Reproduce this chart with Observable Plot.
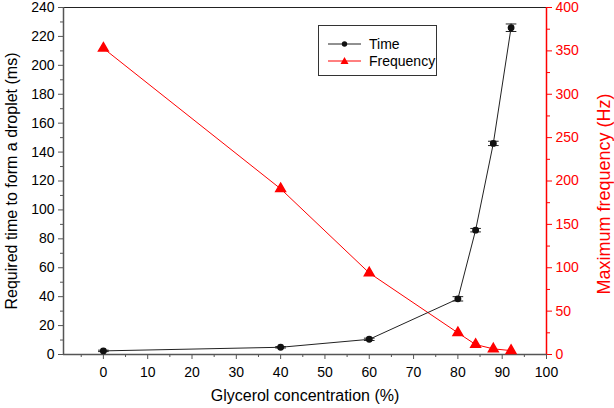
<!DOCTYPE html>
<html><head><meta charset="utf-8">
<script src="https://cdn.jsdelivr.net/npm/d3@7"></script>
<script src="https://cdn.jsdelivr.net/npm/@observablehq/plot@0.6"></script>
<style>
body{margin:0;background:#fff;font-family:"Liberation Sans",Arial,sans-serif;}
#wrap{position:relative;width:614px;height:408px;}
.t{position:absolute;white-space:nowrap;font-size:16px;}
#legend{position:absolute;left:318px;top:25px;width:119px;height:51px;border:1px solid #333;background:#fff;box-sizing:border-box;font-size:14px;}
</style></head>
<body><div id="wrap"></div>
<script>
const glycerol = [0, 40, 60, 80, 84, 88, 92];
const timeMs = [2.5, 5, 10.5, 38.5, 86, 146, 226];
const timeErr = [0.5, 0.5, 0.8, 1.5, 1.2, 1.5, 2.6];
const freqHz = [353, 191, 94, 25, 11.5, 6.5, 4.5];
const xMajor = [0,10,20,30,40,50,60,70,80,90,100];
const xMinor = [-5,5,15,25,35,45,55,65,75,85,95];
const yMajor = [0,20,40,60,80,100,120,140,160,180,200,220,240];
const yMinor = [10,30,50,70,90,110,130,150,170,190,210,230];
const fMajor = [0,50,100,150,200,250,300,350,400];
const fMinor = [25,75,125,175,225,275,325,375];

const k = 240/400;
const timeData = glycerol.map((g,i)=>({x:g, y:timeMs[i], e:timeErr[i]}));
const freqData = glycerol.map((g,i)=>({x:g, y:freqHz[i]*k}));

const chart = Plot.plot({
  width: 614, height: 408,
  marginLeft: 63, marginRight: 68, marginTop: 7, marginBottom: 54,
  style: {fontFamily: '"Liberation Sans", Arial, sans-serif', fontSize: "14px", background: "white", color: "black"},
  x: {domain: [-9, 100]},
  y: {domain: [0, 240]},
  marks: [
    Plot.axisX({ticks: xMajor, tickSize: 5, tickPadding: 8, label: null, stroke: "#555", fill: "black", fontSize: 14}),
    Plot.axisX({ticks: xMinor, tickSize: 3, text: null, label: null, stroke: "#555"}),
    Plot.axisY({ticks: yMajor, tickSize: 5, tickPadding: 4, label: null, stroke: "#555", fill: "black", fontSize: 14}),
    Plot.axisY({ticks: yMinor, tickSize: 3, text: null, label: null, stroke: "#555"}),
    Plot.axisY({anchor: "right", ticks: fMajor.map(f=>f*k), tickFormat: d=>String(Math.round(d/k)), tickSize: 5, tickPadding: 4, label: null, stroke: "red", fill: "red", fontSize: 14}),
    Plot.axisY({anchor: "right", ticks: fMinor.map(f=>f*k), tickSize: 3, text: null, label: null, stroke: "red"}),
    Plot.ruleY([240], {stroke: "#222", strokeWidth: 1.2}),
    Plot.ruleY([0], {stroke: "#555", strokeWidth: 1.5}),
    Plot.ruleX([-9], {stroke: "#555", strokeWidth: 1.5}),
    Plot.ruleX([100], {stroke: "red", strokeWidth: 1.5}),
    Plot.line(freqData, {x: "x", y: "y", stroke: "red", strokeWidth: 1}),
    Plot.dot(freqData, {x: "x", y: "y", symbol: "triangle", r: 3.6, fill: "red", stroke: "red"}),
    Plot.line(timeData, {x: "x", y: "y", stroke: "#222", strokeWidth: 1}),
    Plot.ruleX(timeData, {x: "x", y1: d=>d.y-d.e, y2: d=>d.y+d.e, stroke: "#222"}),
    Plot.link(timeData, {x1: d=>d.x-1.2, x2: d=>d.x+1.2, y1: d=>d.y-d.e, y2: d=>d.y-d.e, stroke: "#222"}),
    Plot.link(timeData, {x1: d=>d.x-1.2, x2: d=>d.x+1.2, y1: d=>d.y+d.e, y2: d=>d.y+d.e, stroke: "#222"}),
    Plot.dot(timeData, {x: "x", y: "y", r: 2.7, fill: "#111", stroke: "#111"})
  ]
});
const wrap = document.getElementById("wrap");
wrap.appendChild(chart);

function addText(txt, left, top, color, rot, size){
  const d = document.createElement("div");
  d.className = "t"; d.textContent = txt; d.style.color = color;
  d.style.left = left + "px"; d.style.top = top + "px";
  if (size) d.style.fontSize = size + "px";
  d.style.transform = "translate(-50%,-50%)" + (rot ? " rotate(" + rot + "deg)" : "");
  wrap.appendChild(d);
}
addText("Glycerol concentration (%)", 305, 396, "black", 0, 16);
addText("Required time to form a droplet (ms)", 12, 181, "black", -90, 16);
addText("Maximum frequency (Hz)", 604, 194, "red", -90, 18);

const lg = document.createElement("div");
lg.id = "legend";
lg.innerHTML = `
<svg width="117" height="49" style="position:absolute;left:0;top:0">
  <line x1="9" x2="42" y1="18" y2="18" stroke="#222"/>
  <circle cx="25.5" cy="18" r="2.7" fill="#111"/>
  <line x1="9" x2="42" y1="35" y2="35" stroke="red"/>
  <path d="M25.5,31 L29.5,38 L21.5,38 Z" fill="red"/>
  <text x="50" y="23" font-size="14" font-family="Liberation Sans, Arial">Time</text>
  <text x="50" y="40" font-size="14" font-family="Liberation Sans, Arial">Frequency</text>
</svg>`;
wrap.appendChild(lg);
</script>
</body></html>
